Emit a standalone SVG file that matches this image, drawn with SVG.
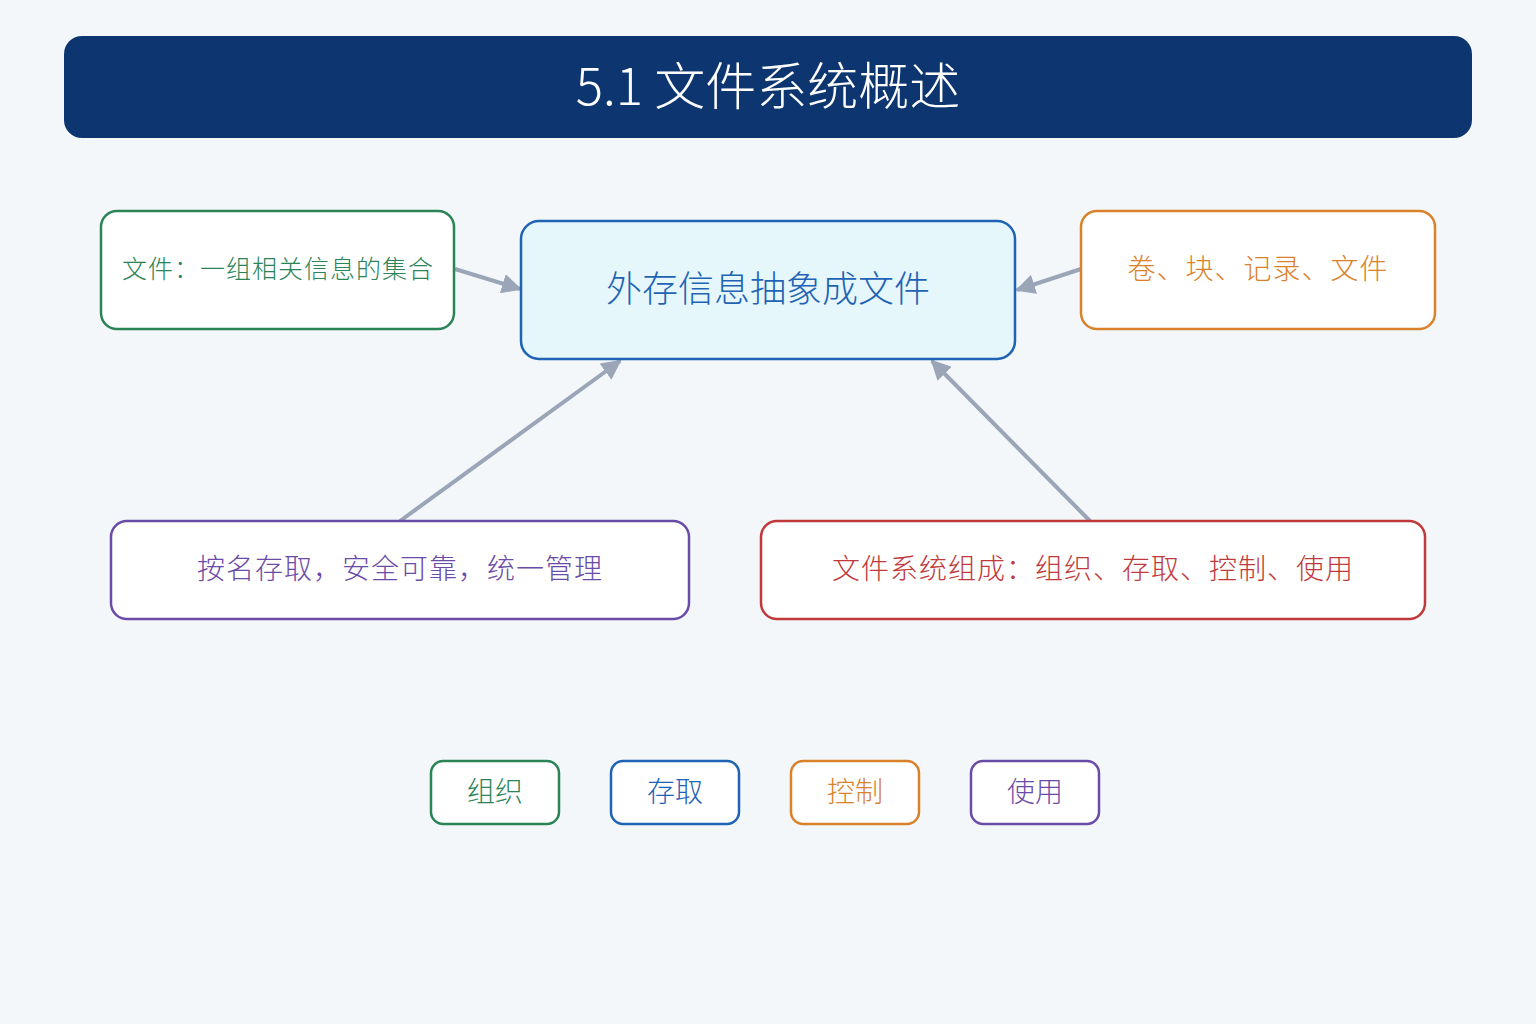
<svg xmlns="http://www.w3.org/2000/svg" width="1536" height="1024" viewBox="0 0 1536 1024">
<defs>
<style>
text{font-family:"Noto Sans CJK SC","Liberation Sans",sans-serif;text-anchor:middle;font-weight:300;}
.box{fill:#FFFFFF;stroke-width:2.5;}
.conn{stroke:#9AA5B8;stroke-width:4;fill:none;marker-end:url(#arr);}
</style>
<marker id="arr" viewBox="0 0 10 10" refX="9" refY="5" markerWidth="5" markerHeight="5" orient="auto" markerUnits="strokeWidth">
<path d="M0,0 L10,5 L0,10 z" fill="#9AA5B8"/>
</marker>
</defs>
<rect width="1536" height="1024" fill="#F3F7FA"/>
<g id="title">
<rect x="64" y="36" width="1408" height="102" rx="18" fill="#0D3670"/>
<text x="768" y="105" font-size="51" fill="#FFFFFF">5.1 文件系统概述</text>
</g>
<g id="connectors">
<line class="conn" x1="455" y1="269" x2="520" y2="289"/>
<line class="conn" x1="1081" y1="269" x2="1017" y2="290"/>
<line class="conn" x1="400" y1="521" x2="620" y2="361"/>
<line class="conn" x1="1090" y1="521" x2="932" y2="361"/>
</g>
<g id="node-def">
<rect class="box" x="101" y="211" width="353" height="118" rx="16" stroke="#2A8456"/>
<text x="278" y="278" font-size="25" letter-spacing="1" fill="#2A8456">文件：一组相关信息的集合</text>
</g>
<g id="node-center">
<rect x="521" y="221" width="494" height="138" rx="18" fill="#E6F7FC" stroke="#1F63B5" stroke-width="2.5"/>
<text x="768" y="302" font-size="36" fill="#1F63B5">外存信息抽象成文件</text>
</g>
<g id="node-levels">
<rect class="box" x="1081" y="211" width="354" height="118" rx="16" stroke="#D9822B"/>
<text x="1258" y="279" font-size="28" letter-spacing="1" fill="#D9822B">卷、块、记录、文件</text>
</g>
<g id="node-access">
<rect class="box" x="111" y="521" width="578" height="98" rx="16" stroke="#6B4BA8"/>
<text x="400" y="579" font-size="28" letter-spacing="1" fill="#6B4BA8">按名存取，安全可靠，统一管理</text>
</g>
<g id="node-compose">
<rect class="box" x="761" y="521" width="664" height="98" rx="16" stroke="#C0393B"/>
<text x="1093" y="579" font-size="28" letter-spacing="1" fill="#C0393B">文件系统组成：组织、存取、控制、使用</text>
</g>
<g id="tag-org">
<rect class="box" x="431" y="761" width="128" height="63" rx="12" stroke="#2A8456"/>
<text x="495" y="802" font-size="28" fill="#2A8456">组织</text>
</g>
<g id="tag-access">
<rect class="box" x="611" y="761" width="128" height="63" rx="12" stroke="#1F63B5"/>
<text x="675" y="802" font-size="28" fill="#1F63B5">存取</text>
</g>
<g id="tag-control">
<rect class="box" x="791" y="761" width="128" height="63" rx="12" stroke="#D9822B"/>
<text x="855" y="802" font-size="28" fill="#D9822B">控制</text>
</g>
<g id="tag-use">
<rect class="box" x="971" y="761" width="128" height="63" rx="12" stroke="#6B4BA8"/>
<text x="1035" y="802" font-size="28" fill="#6B4BA8">使用</text>
</g>
</svg>
